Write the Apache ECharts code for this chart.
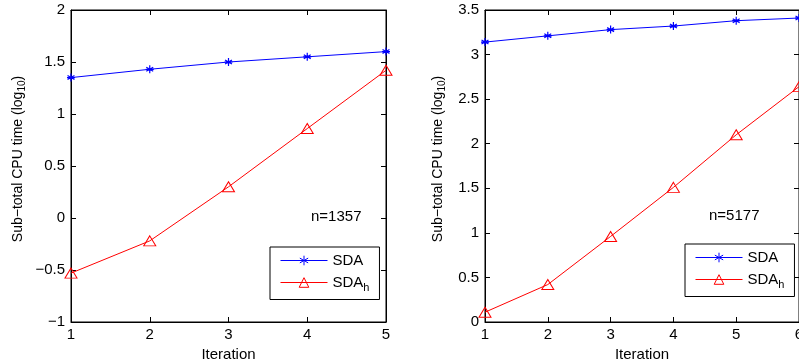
<!DOCTYPE html>
<html>
<head>
<meta charset="utf-8">
<script src="https://cdn.jsdelivr.net/npm/echarts@6/dist/echarts.min.js"></script>
<style>
  html, body { margin: 0; padding: 0; background: #fff; }
  #chart { width: 799px; height: 360px; }
</style>
</head>
<body>
<div id="chart"></div>
<script>
// left panel: n=1357
const itersA = [1, 2, 3, 4, 5];
const sdaA = [1.35, 1.43, 1.50, 1.55, 1.60];
const sdahA = [-0.53, -0.22, 0.30, 0.86, 1.42];
// right panel: n=5177
const itersB = [1, 2, 3, 4, 5, 6];
const sdaB = [3.14, 3.21, 3.28, 3.32, 3.38, 3.41];
const sdahB = [0.11, 0.42, 0.96, 1.51, 2.10, 2.64];

const FONT = '"Liberation Sans", Arial, Helvetica, sans-serif';
const FS = 15;
const pairs = (xs, ys) => xs.map((x, i) => [x, ys[i]]);
const fmt = (v) => String(v).replace('-', '\u2212');
const asterisk = 'path://M0,-5L0,5M-4.33,-2.5L4.33,2.5M-4.33,2.5L4.33,-2.5M-5,0L5,0';

const grids = [
  { left: 71, top: 10, width: 315, height: 312, show: true, borderColor: '#000', borderWidth: 1, outerBoundsMode: 'none' },
  { left: 485, top: 10, width: 314, height: 312, show: true, borderColor: '#000', borderWidth: 1, outerBoundsMode: 'none' },
];

function xAxes(gi, max, main) {
  return {
    type: 'value', gridIndex: gi, min: 1, max: max, interval: 1,
    position: main ? 'bottom' : 'top',
    name: main ? 'Iteration' : '', nameLocation: 'middle', nameGap: 20,
    nameTextStyle: { color: '#000', fontFamily: FONT, fontSize: FS },
    axisLine: { show: true, onZero: false, lineStyle: { color: '#000', width: 1 } },
    axisTick: { show: true, inside: true, length: 5, lineStyle: { color: '#000' } },
    axisLabel: { show: main, color: '#000', fontFamily: FONT, fontSize: FS, margin: 5, formatter: fmt },
    splitLine: { show: false },
  };
}

function yAxes(gi, min, max, main, gap) {
  return {
    type: 'value', gridIndex: gi, min: min, max: max, interval: 0.5,
    position: main ? 'left' : 'right',
    name: main ? '{a|Sub\u2212total CPU time (log}{s|10}{a|)}' : '',
    nameLocation: 'middle', nameGap: gap, nameRotate: 90,
    nameTextStyle: {
      color: '#000', fontFamily: FONT, fontSize: 14,
      padding: [0, 0, 0, 14],
      rich: {
        a: { color: '#000', fontFamily: FONT, fontSize: 14 },
        s: { color: '#000', fontFamily: FONT, fontSize: 10, verticalAlign: 'bottom', padding: [8, 0, 0, 0] },
      },
    },
    axisLine: { show: true, onZero: false, lineStyle: { color: '#000', width: 1 } },
    axisTick: { show: true, inside: true, length: 5, lineStyle: { color: '#000' } },
    axisLabel: { show: main, color: '#000', fontFamily: FONT, fontSize: FS, margin: 6, formatter: fmt },
    splitLine: { show: false },
  };
}

function sdaSeries(xi, yi, data) {
  return {
    name: 'SDA', type: 'line', xAxisIndex: xi, yAxisIndex: yi, data: data,
    symbol: asterisk, symbolSize: 8, showAllSymbol: true,
    lineStyle: { color: '#0000ff', width: 1 },
    itemStyle: { color: '#0000ff', borderColor: '#0000ff', borderWidth: 1.2 },
    emphasis: { disabled: true }, animation: false,
  };
}

function sdahSeries(xi, yi, data) {
  return {
    name: 'SDA_h', type: 'line', xAxisIndex: xi, yAxisIndex: yi, data: data,
    symbol: 'triangle', symbolSize: [12, 10], showAllSymbol: true,
    lineStyle: { color: '#ff0000', width: 1 },
    itemStyle: { color: 'rgba(0,0,0,0)', borderColor: '#ff0000', borderWidth: 1 },
    emphasis: { disabled: true }, animation: false,
  };
}

function legendAt(left, top) {
  return {
    left: left, top: top, orient: 'vertical',
    data: ['SDA', 'SDA_h'],
    backgroundColor: '#fff', borderColor: '#000', borderWidth: 1, borderRadius: 0,
    padding: [6, 10, 6, 10], itemGap: 7, itemWidth: 47, itemHeight: 12,
    selectedMode: false,
    lineStyle: { width: 1 },
    itemStyle: { borderWidth: 1 },
    textStyle: {
      color: '#000', fontFamily: FONT, fontSize: FS,
      rich: {
        a: { color: '#000', fontFamily: FONT, fontSize: FS },
        s: { color: '#000', fontFamily: FONT, fontSize: 11, verticalAlign: 'top', padding: [11, 0, 0, 0] },
      },
    },
    formatter: (n) => n === 'SDA_h' ? '{a|SDA}{s|h}' : '{a|SDA}',
  };
}

const chart = echarts.init(document.getElementById('chart'), null, { renderer: 'canvas' });
chart.setOption({
  animation: false,
  grid: grids,
  xAxis: [xAxes(0, 5, true), xAxes(0, 5, false), xAxes(1, 6, true), xAxes(1, 6, false)],
  yAxis: [yAxes(0, -1, 2, true, 44), yAxes(0, -1, 2, false, 0), yAxes(1, 0, 3.5, true, 38), yAxes(1, 0, 3.5, false, 0)],
  legend: [legendAt(270, 247), legendAt(685, 244)],
  series: [
    sdaSeries(0, 0, pairs(itersA, sdaA)),
    sdahSeries(0, 0, pairs(itersA, sdahA)),
    sdaSeries(2, 2, pairs(itersB, sdaB)),
    sdahSeries(2, 2, pairs(itersB, sdahB)),
  ],
  graphic: [
    { type: 'text', left: 311, top: 209, style: { text: 'n=1357', fill: '#000', font: FS + 'px ' + FONT } },
    { type: 'text', left: 709, top: 208, style: { text: 'n=5177', fill: '#000', font: FS + 'px ' + FONT } },
  ],
});
</script>
</body>
</html>
